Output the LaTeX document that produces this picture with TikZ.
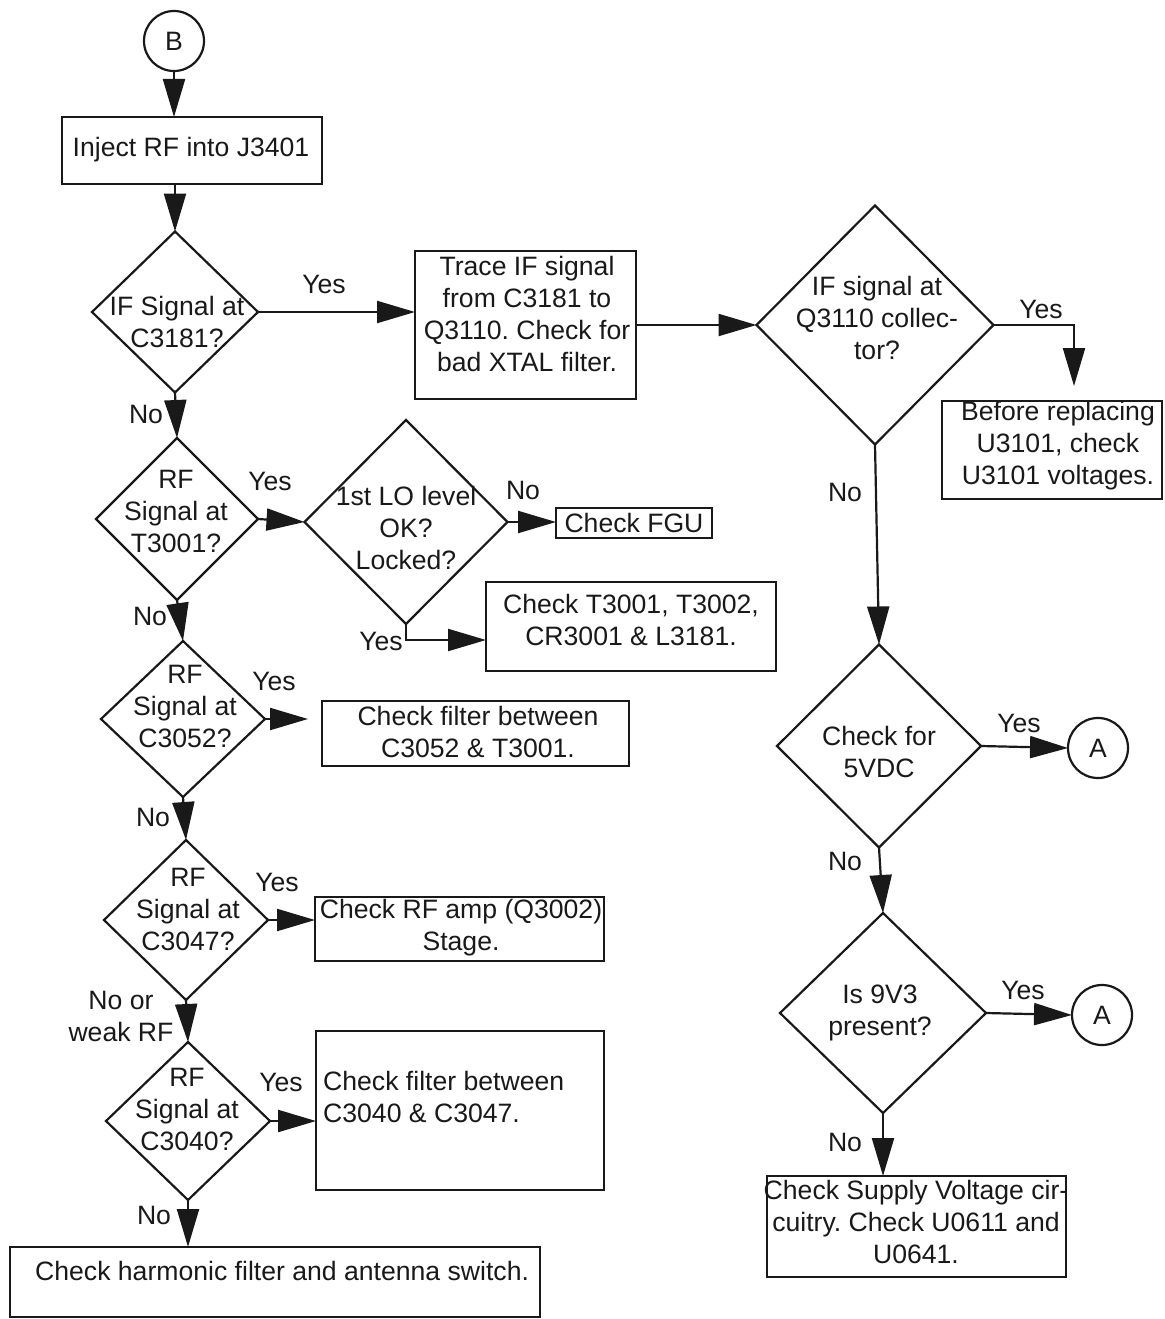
\documentclass[tikz,border=0pt]{standalone}
\usepackage{fontspec}
\setmainfont{Liberation Sans}
\usetikzlibrary{shapes.geometric,arrows.meta,calc}
\frenchspacing
\begin{document}
\begin{tikzpicture}[x=1pt,y=-1pt,
  every node/.style={font=\fontsize{26.6}{32}\selectfont, text=black!90},
  dia/.style={diamond, draw=black!90, line width=2.2pt, inner sep=0pt, outer sep=0pt},
  bx/.style={rectangle, draw=black!90, line width=2.6pt, inner sep=0pt, outer sep=0pt},
  circ/.style={circle, draw=black!90, line width=2.2pt, minimum size=60pt, inner sep=0pt, outer sep=0pt},
  txt/.style={align=center, inner sep=0pt},
  lbl/.style={inner sep=0pt},
  arr/.style={line width=2.2pt, draw=black!90, -{Triangle[length=38pt,width=22pt]}}
]
\useasboundingbox (0,0) rectangle (1164,1319);

% ---- shapes ----
\node[circ] (B) at (174,41) {B};
\node[bx, minimum width=260pt, minimum height=67pt] (inj) at (192,150.5) {};
\node[txt] (injt) at (191,150) {Inject RF into J3401};

\node[dia, minimum width=166pt, minimum height=161pt] (d1) at (175,312) {};
\node[txt] (d1t) at (177,322) {IF Signal at\\C3181?};

\node[bx, minimum width=221pt, minimum height=148pt] (trace) at (525.5,325) {};
\node[txt] (tracet) at (527,314) {Trace IF signal\\from C3181 to\\Q3110. Check for\\bad XTAL filter.};

\node[dia, minimum width=237pt, minimum height=239pt] (d2) at (875,325) {};
\node[txt] (d2t) at (877,318) {IF signal at\\Q3110 collec-\\tor?};

\node[bx, minimum width=220pt, minimum height=98pt] (bef) at (1052,450) {};
\node[txt] (beft) at (1058,446) {Before replacing\\U3101, check\\U3101 voltages.};

\node[dia, minimum width=204pt, minimum height=203pt] (d3) at (879,746) {};
\node[txt] (d3t) at (879,752) {Check for\\5VDC};
\node[circ] (A1) at (1098,748) {A};

\node[dia, minimum width=206pt, minimum height=200pt] (d4) at (883,1013) {};
\node[txt] (d4t) at (880,1013) {Is 9V3\\present?};
\node[circ] (A2) at (1102,1015) {A};

\node[bx, minimum width=299pt, minimum height=101pt] (sup) at (916.5,1226.5) {};
\node[txt] (supt) at (916,1222) {Check Supply Voltage cir-\\cuitry. Check U0611 and\\U0641.};

\node[dia, minimum width=162pt, minimum height=162pt] (dT) at (177,519) {};
\node[txt] (dTt) at (176,511) {RF\\Signal at\\T3001?};

\node[dia, minimum width=203pt, minimum height=204pt] (dLO) at (406,522) {};
\node[txt] (dLOt) at (406,528) {1st LO level\\OK?\\Locked?};

\node[bx, minimum width=156pt, minimum height=30pt] (fgu) at (634,523) {};
\node[txt] (fgut) at (634,523) {Check FGU};

\node[bx, minimum width=290pt, minimum height=89pt] (t3) at (631,626.5) {};
\node[txt] (t3t) at (631,620) {Check T3001, T3002,\\CR3001 \& L3181.};

\node[dia, minimum width=164pt, minimum height=156pt] (d52) at (183,719) {};
\node[txt] (d52t) at (185,706) {RF\\Signal at\\C3052?};

\node[bx, minimum width=307pt, minimum height=65pt] (c52) at (475.5,733.5) {};
\node[txt] (c52t) at (478,732) {Check filter between\\C3052 \& T3001.};

\node[dia, minimum width=164pt, minimum height=160pt] (d47) at (186,920) {};
\node[txt] (d47t) at (188,909) {RF\\Signal at\\C3047?};

\node[bx, minimum width=289pt, minimum height=64pt] (amp) at (459.5,929) {};
\node[txt] (ampt) at (461,928) {Check RF amp (Q3002)\\Stage.};

\node[dia, minimum width=164pt, minimum height=158pt] (d40) at (188,1121) {};
\node[txt] (d40t) at (187,1109) {RF\\Signal at\\C3040?};

\node[bx, minimum width=288pt, minimum height=159pt] (c40) at (460,1110.5) {};
\node[txt, anchor=west, align=left] (c40t) at (323,1097) {Check filter between\\C3040 \& C3047.};

\node[bx, minimum width=530pt, minimum height=70pt] (harm) at (275,1282) {};
\node[txt, anchor=west] (harmt) at (35,1271) {Check harmonic filter and antenna switch.};

% ---- connectors ----
\draw[arr] (B.south) -- (B.south |- inj.north);
\draw[arr] (d1.north |- inj.south) -- (d1.north);
\draw[arr] (d1.east) -- (d1.east -| trace.west);
\draw[arr] (trace.east) -- (d2.west);
\coordinate (befin) at (1074,386);
\draw[arr] (d2.east) -| (befin);
\draw[arr] (d2.south) -- (d3.north);
\draw[arr] (d3.east) -- (A1.west);
\draw[arr] (d3.south) -- (d4.north);
\draw[arr] (d4.east) -- (A2.west);
\draw[arr] (d4.south) -- (d4.south |- sup.north);

\draw[arr] (d1.south) -- (dT.north);
\draw[arr] (dT.east) -- (dLO.west);
\draw[arr] (dLO.east) -- (dLO.east -| fgu.west);
\draw[arr] (dLO.south) |- ([yshift=-13.5pt]t3.west);
\draw[arr] (dT.south) -- (d52.north);
\draw[arr, shorten >=14pt] (d52.east) -- (d52.east -| c52.west);
\draw[arr] (d52.south) -- (d47.north);
\draw[arr] (d47.east) -- (d47.east -| amp.west);
\draw[arr] (d47.south) -- (d40.north);
\draw[arr] (d40.east) -- (d40.east -| c40.west);
\draw[arr] (d40.south) -- (d40.south |- harm.north);

% ---- labels ----
\node[lbl] (l1) at (324,284) {Yes};
\node[lbl] (l2) at (1041,309) {Yes};
\node[lbl] (l3) at (845,492) {No};
\node[lbl] (l4) at (1019,723) {Yes};
\node[lbl] (l5) at (845,861) {No};
\node[lbl] (l6) at (1023,990) {Yes};
\node[lbl] (l7) at (845,1142) {No};
\node[lbl] (l8) at (146,414) {No};
\node[lbl] (l9) at (270,481) {Yes};
\node[lbl] (l10) at (523,490) {No};
\node[lbl] (l11) at (381,641) {Yes};
\node[lbl] (l12) at (150,616) {No};
\node[lbl] (l13) at (274,681) {Yes};
\node[lbl] (l14) at (153,817) {No};
\node[lbl] (l15) at (277,882) {Yes};
\node[txt] (l16) at (121,1016) {No or\\weak RF};
\node[lbl] (l17) at (281,1082) {Yes};
\node[lbl] (l18) at (154,1215) {No};
\end{tikzpicture}
\end{document}
